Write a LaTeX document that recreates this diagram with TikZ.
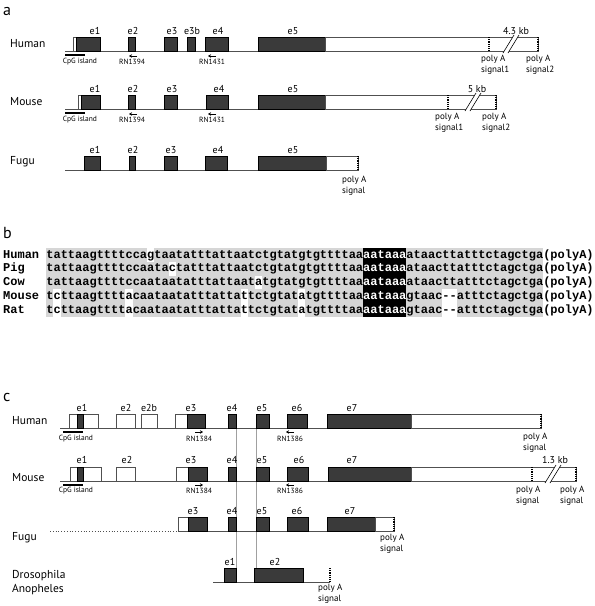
\documentclass[tikz,border=0pt]{standalone}
\usepackage{fontspec}
\setmainfont{PT Sans}
\setmonofont{Liberation Mono}
\usetikzlibrary{arrows.meta}
\definecolor{ExonDark}{RGB}{58,58,58}
\definecolor{IntronGray}{RGB}{80,80,80}
\definecolor{SeqGray}{RGB}{214,214,214}
\definecolor{GuideGray}{RGB}{160,160,160}

% break mark "//" across a UTR box: x of first slash foot, box top, box bottom
\newcommand{\brkmark}[3]{%
  \fill[white] (#1,#3+2) -- (#1+11,#2-2) -- (#1+16,#2-2) -- (#1+5,#3+2) -- cycle;
  \draw[line width=0.6pt] (#1,#3+2) -- (#1+11,#2-2);
  \draw[line width=0.6pt] (#1+5,#3+2) -- (#1+16,#2-2);}
% white cell behind one base of row #1 (0..4), position #2 (1..69)
\newcommand{\gapcell}[2]{%
  \fill[white] ({46.2+(#2-1)*7.2},{248+#1*13.8}) rectangle ++(7.2,13.8);}

\begin{document}
\begin{tikzpicture}[x=1pt, y=-1pt,
  every node/.style={inner sep=0pt},
  intron/.style={draw=IntronGray, line width=0.8pt},
  exon/.style={draw=black, fill=ExonDark, line width=0.5pt},
  utr/.style={draw=IntronGray, fill=white, line width=0.7pt},
  polyA/.style={line width=2.4pt, dash pattern=on 1.2pt off 1pt},
  cpg/.style={line width=2.4pt},
  primer/.style={-{Stealth[length=3pt,width=3.5pt]}, line width=0.9pt},
  species/.style={font=\fontsize{11.5}{12}\selectfont, anchor=west},
  exlab/.style={font=\fontsize{10}{10}\selectfont},
  tagtext/.style={font=\fontsize{7.5}{8}\selectfont},
  sig/.style={font=\fontsize{9}{11}\selectfont, align=left, anchor=north west},
  panel/.style={font=\fontsize{16}{16}\selectfont, anchor=west},
  seq/.style={font=\fontsize{12}{12}\selectfont\ttfamily\bfseries, anchor=base west},
  guide/.style={draw=GuideGray, line width=0.4pt}
]
\useasboundingbox (0,0) rectangle (595,606);

% ---------- a ----------
\node[panel] (pa) at (3,11) {a};

% human
\node[species] (aHuman) at (10,44) {Human};
\draw[intron] (65,51) -- (258,51);
\draw[utr]  (73,37) rectangle (76,51);
\draw[exon] (76,37) rectangle (100,51);
\draw[exon] (128,37) rectangle (135,51);
\draw[exon] (164,37) rectangle (177,51);
\draw[exon] (187,37) rectangle (195,51);
\draw[exon] (205,37) rectangle (228,51);
\draw[exon] (258,37) rectangle (325,51);
\draw[utr]  (325,37) rectangle (538,51);
\draw[polyA] (489,37) -- (489,51);
\draw[polyA] (538,37) -- (538,51);
\brkmark{503}{37}{51}
\node[exlab] (ahe1) at (95,31) {e1};
\node[exlab] (ahe2) at (133,31) {e2};
\node[exlab] (ahe3) at (172,31) {e3};
\node[exlab] (ahe3b) at (192,31) {e3b};
\node[exlab] (ahe4) at (218,31) {e4};
\node[exlab] (ahe5) at (293,31) {e5};
\node[exlab] (ahkb) at (516,31) {4.3 kb};
\draw[cpg] (65,55) -- (85,55);
\node[tagtext] (ahcpg) at (80,62) {CpG island};
\draw[primer] (137,56) -- (129,56);
\node[tagtext] (ahp1) at (132,62) {RN1394};
\draw[primer] (216,56) -- (208,56);
\node[tagtext] (ahp2) at (212,62) {RN1431};
\node[sig] (ahs1) at (481,55) {poly A\\signal1};
\node[sig] (ahs2) at (526,55) {poly A\\signal2};

% mouse
\node[species] (aMouse) at (10,102) {Mouse};
\draw[intron] (65,109) -- (258,109);
\draw[utr]  (78,95) rectangle (81,109);
\draw[exon] (81,95) rectangle (100,109);
\draw[exon] (128,95) rectangle (135,109);
\draw[exon] (164,95) rectangle (177,109);
\draw[exon] (206,95) rectangle (228,109);
\draw[exon] (258,95) rectangle (325,109);
\draw[utr]  (325,95) rectangle (496,109);
\draw[polyA] (448,95) -- (448,109);
\draw[polyA] (496,95) -- (496,109);
\brkmark{465}{95}{109}
\node[exlab] (ame1) at (95,89) {e1};
\node[exlab] (ame2) at (133,89) {e2};
\node[exlab] (ame3) at (172,89) {e3};
\node[exlab] (ame4) at (219,89) {e4};
\node[exlab] (ame5) at (293,89) {e5};
\node[exlab] (amkb) at (477,89) {5 kb};
\draw[cpg] (65,113) -- (85,113);
\node[tagtext] (amcpg) at (80,120) {CpG island};
\draw[primer] (137,114) -- (129,114);
\node[tagtext] (amp1) at (132,120) {RN1394};
\draw[primer] (216,114) -- (208,114);
\node[tagtext] (amp2) at (212,120) {RN1431};
\node[sig] (ams1) at (435,113) {poly A\\signal1};
\node[sig] (ams2) at (482,113) {poly A\\signal2};

% fugu
\node[species] (aFugu) at (10,162) {Fugu};
\draw[intron] (65,170) -- (258,170);
\draw[exon] (84,156) rectangle (100,170);
\draw[exon] (129,156) rectangle (135,170);
\draw[exon] (164,156) rectangle (177,170);
\draw[exon] (205,156) rectangle (227,170);
\draw[exon] (258,156) rectangle (326,170);
\draw[utr]  (326,156) rectangle (358,170);
\draw[polyA] (358,156) -- (358,170);
\node[exlab] (afe1) at (95,150) {e1};
\node[exlab] (afe2) at (133,150) {e2};
\node[exlab] (afe3) at (171,150) {e3};
\node[exlab] (afe4) at (218,150) {e4};
\node[exlab] (afe5) at (293,150) {e5};
\node[sig] (afs) at (342,176) {poly A\\signal};

% ---------- b ----------
\node[panel] (pb) at (3,233) {b};
\fill[SeqGray] (46.2,248) rectangle (543,317);
\fill[black] (363,248) rectangle (406.2,317);
\gapcell{0}{15}
\gapcell{1}{18}
\gapcell{2}{30}
\foreach \r in {3,4}{
  \gapcell{\r}{2}\gapcell{\r}{12}\gapcell{\r}{28}\gapcell{\r}{36}
  \gapcell{\r}{56}\gapcell{\r}{57}}
\node[seq] (bHuman) at (3,258.0) {Human};
\node[seq] (bPig)   at (3,271.8) {Pig};
\node[seq] (bCow)   at (3,285.6) {Cow};
\node[seq] (bMouse) at (3,299.4) {Mouse};
\node[seq] (bRat)   at (3,313.2) {Rat};
\node[seq] (sHuman) at (46.2,258.0) {tattaagttttccagtaatatttattaatctgtatgtgttttaa\textcolor{white}{aataaa}ataacttatttctagctga(polyA)};
\node[seq] (sPig)   at (46.2,271.8) {tattaagttttccaatactatttattaatctgtatgtgttttaa\textcolor{white}{aataaa}ataacttatttctagctga(polyA)};
\node[seq] (sCow)   at (46.2,285.6) {tattaagttttccaataatatttattaatatgtatgtgttttaa\textcolor{white}{aataaa}ataacttatttctagctga(polyA)};
\node[seq] (sMouse) at (46.2,299.4) {tcttaagttttacaataatatttattattctgtatatgttttaa\textcolor{white}{aataaa}gtaac--atttctagctga(polyA)};
\node[seq] (sRat)   at (46.2,313.2) {tcttaagttttacaataatatttattattctgtatatgttttaa\textcolor{white}{aataaa}gtaac--atttctagctga(polyA)};

% ---------- c ----------
\node[panel] (pc) at (3,397) {c};
\draw[guide] (236,428) -- (236,568);
\draw[guide] (256,428) -- (256,568);

% human
\node[species] (cHuman) at (12,421) {Human};
\draw[intron] (60,428) -- (327,428);
\draw[utr]  (69,414) rectangle (98,428);
\draw[exon] (77,414) rectangle (83,428);
\draw[utr]  (116,414) rectangle (135,428);
\draw[utr]  (141,414) rectangle (157,428);
\draw[utr]  (175,414) rectangle (187,428);
\draw[exon] (187,414) rectangle (205,428);
\draw[exon] (228,414) rectangle (236,428);
\draw[exon] (256,414) rectangle (269,428);
\draw[exon] (287,414) rectangle (307,428);
\draw[exon] (327,414) rectangle (411,428);
\draw[utr]  (411,414) rectangle (541,428);
\draw[polyA] (541,414) -- (541,428);
\node[exlab] (che1) at (82,408) {e1};
\node[exlab] (che2) at (126,408) {e2};
\node[exlab] (che2b) at (149,408) {e2b};
\node[exlab] (che3) at (191,408) {e3};
\node[exlab] (che4) at (232,408) {e4};
\node[exlab] (che5) at (262,408) {e5};
\node[exlab] (che6) at (297,408) {e6};
\node[exlab] (che7) at (352,408) {e7};
\draw[cpg] (63,432) -- (83,432);
\node[tagtext] (chcpg) at (76,439) {CpG island};
\draw[primer] (195,432) -- (203,432);
\node[tagtext] (chp1) at (199,439) {RN1384};
\draw[primer] (294,432) -- (286,432);
\node[tagtext] (chp2) at (290,439) {RN1386};
\node[sig] (chs) at (523,433) {poly A\\signal};

% mouse
\node[species] (cMouse) at (12,478) {Mouse};
\draw[intron] (60,481) -- (328,481);
\draw[utr]  (70,467) rectangle (101,481);
\draw[exon] (77,467) rectangle (83,481);
\draw[utr]  (116,467) rectangle (135,481);
\draw[utr]  (176,467) rectangle (188,481);
\draw[exon] (188,467) rectangle (207,481);
\draw[exon] (228,467) rectangle (236,481);
\draw[exon] (256,467) rectangle (269,481);
\draw[exon] (287,467) rectangle (308,481);
\draw[exon] (328,467) rectangle (411,481);
\draw[utr]  (411,467) rectangle (576,481);
\draw[polyA] (532,467) -- (532,481);
\draw[polyA] (576,467) -- (576,481);
\brkmark{545}{467}{481}
\node[exlab] (cme1) at (82,460) {e1};
\node[exlab] (cme2) at (127,460) {e2};
\node[exlab] (cme3) at (191,460) {e3};
\node[exlab] (cme4) at (232,460) {e4};
\node[exlab] (cme5) at (262,460) {e5};
\node[exlab] (cme6) at (299,460) {e6};
\node[exlab] (cme7) at (352,460) {e7};
\node[exlab] (cmkb) at (555,460) {1.3 kb};
\draw[cpg] (63,485) -- (83,485);
\node[tagtext] (cmcpg) at (76,491) {CpG island};
\draw[primer] (195,485) -- (203,485);
\node[tagtext] (cmp1) at (199,491) {RN1384};
\draw[primer] (294,485) -- (286,485);
\node[tagtext] (cmp2) at (290,491) {RN1386};
\node[sig] (cms1) at (516,486) {poly A\\signal};
\node[sig] (cms2) at (560,486) {poly A\\signal};

% fugu
\node[species] (cFugu) at (12,538) {Fugu};
\draw[intron, dotted] (50,531) -- (178,531);
\draw[intron] (178,531) -- (327,531);
\draw[utr]  (178,517) rectangle (188,531);
\draw[exon] (188,517) rectangle (207,531);
\draw[exon] (228,517) rectangle (236,531);
\draw[exon] (256,517) rectangle (269,531);
\draw[exon] (287,517) rectangle (308,531);
\draw[exon] (327,517) rectangle (375,531);
\draw[utr]  (375,517) rectangle (394,531);
\draw[polyA] (394,517) -- (394,531);
\node[exlab] (cfe3) at (193,511) {e3};
\node[exlab] (cfe4) at (232,511) {e4};
\node[exlab] (cfe5) at (262,511) {e5};
\node[exlab] (cfe6) at (297,511) {e6};
\node[exlab] (cfe7) at (350,511) {e7};
\node[sig] (cfs) at (380,534) {poly A\\signal};

% drosophila / anopheles
\node[species] (cDros) at (12,576) {Drosophila};
\node[species] (cAnoph) at (12,590) {Anopheles};
\draw[intron] (213,582) -- (330,582);
\draw[exon] (224,568) rectangle (236,582);
\draw[exon] (254,568) rectangle (303,582);
\draw[polyA] (330,568) -- (330,582);
\node[exlab] (cde1) at (230,562) {e1};
\node[exlab] (cde2) at (275,562) {e2};
\node[sig] (cds) at (318,584) {poly A\\signal};
\end{tikzpicture}
\end{document}
